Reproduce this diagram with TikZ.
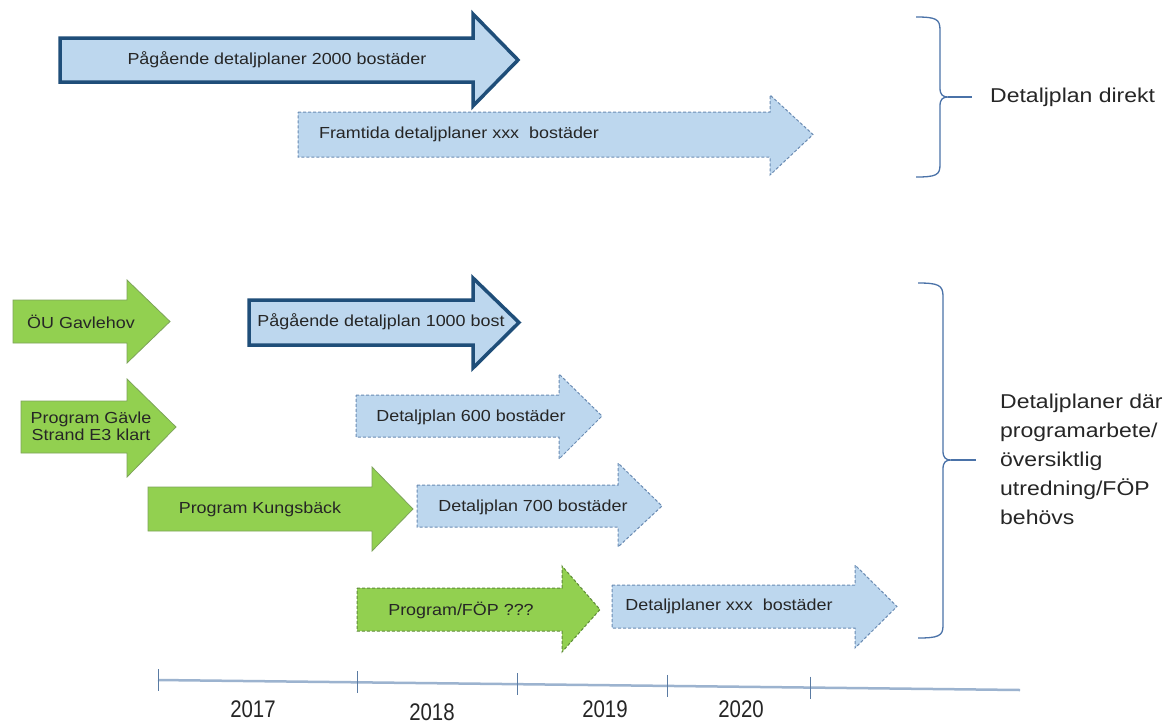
\documentclass[tikz,border=0pt]{standalone}
\usepackage{fontspec}
\setmainfont{Liberation Sans}
\newfontfamily\arrfont{Liberation Sans}[FakeStretch=1.12]
\newfontfamily\sidefont{Liberation Sans}[FakeStretch=1.15]
\newfontfamily\yearfont{Liberation Sans}[FakeStretch=0.85]
\definecolor{lblue}{HTML}{BDD7EE}
\definecolor{dblue}{HTML}{1F4E79}
\definecolor{dashb}{HTML}{6A8BB3}
\definecolor{grn}{HTML}{92D050}
\definecolor{grnb}{HTML}{7DA35A}
\definecolor{grnd}{HTML}{5E8A3A}
\definecolor{txt}{HTML}{262626}
\definecolor{brc}{HTML}{4A72A8}
\definecolor{tlc}{HTML}{9CB3CF}
\definecolor{tkc}{HTML}{5A7BA3}
\newcommand\harr[8]{\draw[#1] (#2,#5) -- (#3,#5) -- (#3,#7) -- (#4,{(#5+#6)/2}) -- (#3,#8) -- (#3,#6) -- (#2,#6) -- cycle;}
\begin{document}
\begin{tikzpicture}[x=1pt,y=-1pt,
  solidblue/.style={fill=lblue, draw=dblue, line width=3.5pt, line join=miter},
  dashblue/.style={fill=lblue, draw=dashb, line width=1pt, dash pattern=on 3pt off 2pt},
  greenarr/.style={fill=grn, draw=grnb, line width=0.8pt},
  greendash/.style={fill=grn, draw=grnd, line width=1pt, dash pattern=on 3pt off 2pt},
  atext/.style={font=\arrfont\fontsize{16}{17}\selectfont, text=txt, inner sep=0pt},
  stext/.style={font=\sidefont\fontsize{20}{29}\selectfont, text=txt, inner sep=0pt},
  ytext/.style={font=\yearfont\fontsize{24}{26}\selectfont, text=txt, inner sep=0pt},
  bracestyle/.style={draw=brc, line width=1.3pt},
  tline/.style={draw=tlc, line width=2.5pt},
  tickstyle/.style={draw=tkc, line width=1pt}]
\useasboundingbox (0,0) rectangle (1168,724);
\fill[white] (0,0) rectangle (1168,724);
% top group
\harr{solidblue}{60}{473}{518}{38}{82}{14}{106}
\node[atext] (t1) at (277,60) {Pågående detaljplaner 2000 bostäder};
\harr{dashblue}{298}{770}{813}{112}{157}{95}{175}
\node[atext] (t2) at (459,134) {Framtida detaljplaner xxx\ \ bostäder};
% lower group
\harr{greenarr}{13}{127}{170}{300}{343}{280}{363}
\node[atext] (t3) at (81,322) {ÖU Gavlehov};
\harr{solidblue}{249}{473}{519}{300}{345}{278}{368}
\node[atext] (t4) at (381,322) {Pågående detaljplan 1000 bost};
\harr{greenarr}{21}{127}{176}{401}{453}{379}{477}
\node[atext, align=center] (t5) at (91,426) {Program Gävle\\Strand E3 klart};
\harr{dashblue}{356}{559}{602}{395}{437}{374}{459}
\node[atext] (t6) at (471,417) {Detaljplan 600 bostäder};
\harr{greenarr}{148}{372}{413}{487}{531}{467}{551}
\node[atext] (t7) at (260,509) {Program Kungsbäck};
\harr{dashblue}{417}{618}{662}{485}{527}{463}{547}
\node[atext] (t8) at (533,507) {Detaljplan 700 bostäder};
\harr{greendash}{357}{562}{600}{588}{631}{566}{652}
\node[atext] (t9) at (461,610) {Program/FÖP ???};
\harr{dashblue}{612}{855}{897}{585}{628}{565}{648}
\node[atext] (t10) at (729,606) {Detaljplaner xxx\ \ bostäder};
% braces
\coordinate (b1tip) at (948,97);
\coordinate (b1end) at (972,97);
\draw[bracestyle] (916,17) .. controls (936,17) and (940,19) .. (940,30) -- (940,88) .. controls (940,95) and (943,97) .. (b1tip) .. controls (943,97) and (940,99) .. (940,106) -- (940,165) .. controls (940,175) and (936,177) .. (916,177);
\draw[bracestyle] (b1tip) -- (b1end);
\node[stext, anchor=west] (s1) at (990,97) {Detaljplan direkt};
\coordinate (b2tip) at (951,460);
\coordinate (b2end) at (976,460);
\draw[bracestyle] (918,283) .. controls (938,283) and (943,285) .. (943,296) -- (943,451) .. controls (943,458) and (946,460) .. (b2tip) .. controls (946,460) and (943,462) .. (943,469) -- (943,626) .. controls (943,636) and (938,638) .. (918,638);
\draw[bracestyle] (b2tip) -- (b2end);
\node[stext, anchor=north west, align=left] (s2) at (1000,394) {Detaljplaner där\\programarbete/\\översiktlig\\utredning/FÖP\\behövs};
% timeline
\coordinate (tl0) at (158,680);
\coordinate (tl1) at (1020,690);
\draw[tline] (tl0) -- (tl1);
\foreach \xx in {158,357,517,667,810} {
  \pgfmathsetmacro\yy{680+(\xx-158)/862*10}
  \draw[tickstyle] (\xx,\yy-11) -- (\xx,\yy+11);
}
\node[ytext] (y17) at (253,709) {2017};
\node[ytext] (y18) at (432,712) {2018};
\node[ytext] (y19) at (605,709) {2019};
\node[ytext] (y20) at (741,709) {2020};
\end{tikzpicture}
\end{document}
